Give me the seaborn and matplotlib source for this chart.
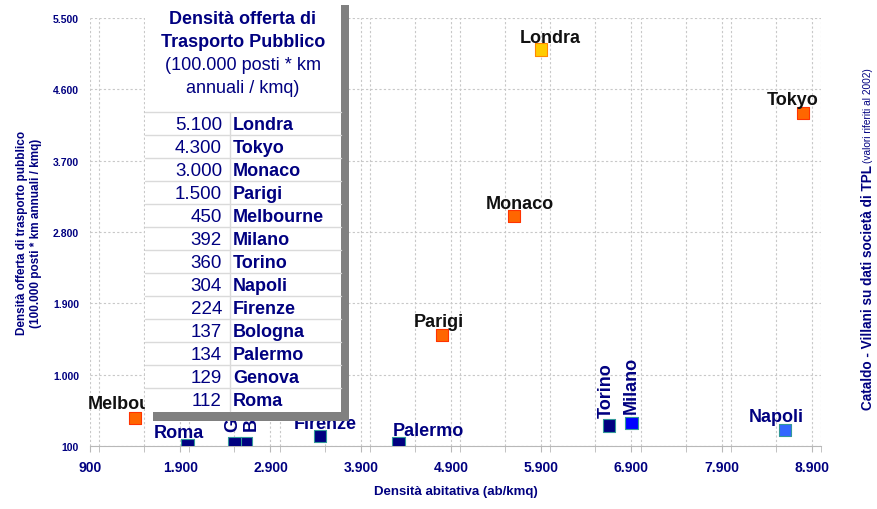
import numpy as np
import pandas as pd
import matplotlib
matplotlib.use("Agg")
import matplotlib.pyplot as plt
import seaborn as sns
from matplotlib.ticker import FuncFormatter, MultipleLocator
from matplotlib.patches import Rectangle

# data
cities = ["Londra", "Tokyo", "Monaco", "Parigi", "Melbourne", "Milano", "Torino",
          "Napoli", "Firenze", "Bologna", "Palermo", "Genova", "Roma"]
offerta = [5100, 4300, 3000, 1500, 450, 392, 360, 304, 224, 137, 134, 129, 112]
densita = [5900, 8800, 5600, 4800, 1400, 6900, 6650, 8600, 3450, 2630, 4320, 2500, 1980]
fill = ["#FFCC00", "#FF6600", "#FF6600", "#FF6600", "#FF6600", "#0000FF", "#000080",
        "#3366FF", "#000080", "#000080", "#000080", "#000080", "#000080"]
x_ticks = list(range(900, 9000, 1000))
y_ticks = list(range(100, 5501, 900))

# label styling: (dx px, dy px, rotation, colour)
label_style = {
    "Londra": (9, 8, 0, "#111111"), "Tokyo": (-10, 9, 0, "#111111"),
    "Monaco": (6, 8, 0, "#111111"), "Parigi": (-3, 9, 0, "#111111"),
    "Melbourne": (-2, 10, 0, "#111111"), "Milano": (0, 10, 90, "#000080"),
    "Torino": (-3, 8, 90, "#000080"), "Napoli": (-9, 9, 0, "#000080"),
    "Firenze": (5, 8, 0, "#000080"), "Bologna": (5, 13, 90, "#000080"),
    "Palermo": (30, 8, 0, "#000080"), "Genova": (-2, 13, 90, "#000080"),
    "Roma": (-9, 8, 0, "#000080"),
}

df = pd.DataFrame({"citta": cities, "densita": densita, "offerta": offerta})
NAVY = "#000080"

sns.set_style("white")
plt.rcParams["font.family"] = ["Liberation Sans", "DejaVu Sans"]

fig = plt.figure(figsize=(8.78, 5.10), dpi=100)
ax = fig.add_axes([90 / 878, 63 / 510, 731 / 878, 428 / 510])

edges = ["#FF8800" if c == "#FFCC00" else "#FF3300" if c == "#FF6600" else "#339999" for c in fill]
sns.scatterplot(data=df, x="densita", y="offerta", hue="citta",
                palette=dict(zip(cities, fill)), marker="s", s=80,
                linewidth=0.8, legend=False, ax=ax, zorder=3)
ax.collections[0].set_edgecolors(edges)

px = 72 / 100
for c, x, y in zip(cities, densita, offerta):
    dx, dy, rot, col = label_style[c]
    ax.annotate(c, (x, y), xytext=(dx * px, dy * px), textcoords="offset points",
                ha="center", va="bottom" if rot else "baseline", rotation=rot,
                fontsize=13, fontweight="bold", color=col, zorder=4)

ax.set_xlim(900, 9000)
ax.set_ylim(100, 5500)
ax.set_xticks(x_ticks)
ax.xaxis.set_minor_locator(MultipleLocator(500))
ax.set_yticks(y_ticks)
fmt = FuncFormatter(lambda v, p: f"{int(v):,}".replace(",", "."))
ax.xaxis.set_major_formatter(fmt)
ax.yaxis.set_major_formatter(fmt)
ax.grid(True, which="both", axis="x", color="#C8C8C8", linestyle=(0, (2, 2)), linewidth=0.8)
ax.grid(True, which="major", axis="y", color="#C8C8C8", linestyle=(0, (2, 2)), linewidth=0.8)
for s in ["top", "right", "left"]:
    ax.spines[s].set_visible(False)
ax.spines["bottom"].set_color("#B8B8B8")
ax.tick_params(axis="x", which="both", length=4, color="#B8B8B8", bottom=True, pad=6)
ax.tick_params(axis="y", length=0, pad=8)
for t in ax.get_xticklabels():
    t.set_fontsize(10); t.set_fontweight("bold"); t.set_color(NAVY)
for t in ax.get_yticklabels():
    t.set_fontsize(7.5); t.set_fontweight("bold"); t.set_color(NAVY)

ax.set_xlabel("Densità abitativa (ab/kmq)", fontsize=9.5, fontweight="bold", color=NAVY, labelpad=8)
ax.set_ylabel("Densità offerta di trasporto pubblico\n(100.000 posti * km annuali / kmq)",
              fontsize=8.5, fontweight="bold", color=NAVY, labelpad=8)

fig.text(868 / 878, 100 / 510, "Cataldo - Villani su dati società di TPL", rotation=90,
         ha="center", va="bottom", fontsize=9.8, fontweight="bold", color=NAVY)
fig.text(868 / 878, 347 / 510, "(valori riferiti al 2002)", rotation=90,
         ha="center", va="bottom", fontsize=7.3, color=NAVY)

# inset table, pixel-like coordinates
tab = pd.DataFrame({"v": offerta, "c": cities}).sort_values("v", ascending=False)
iax = fig.add_axes([145 / 878, 88 / 510, 204 / 878, 422 / 510], zorder=5)
iax.set_xlim(145, 349)
iax.set_ylim(422, 0)
iax.axis("off")
iax.add_patch(Rectangle((153, 6), 196, 416, facecolor="#808080", edgecolor="none"))
iax.add_patch(Rectangle((145, 0), 196, 413, facecolor="white", edgecolor="none"))
title = ["Densità offerta di", "Trasporto Pubblico", "(100.000 posti * km", "annuali / kmq)"]
for i, line in enumerate(title):
    iax.text(243, 19 + 23.3 * i, line, ha="center", va="center", fontsize=13,
             fontweight="bold" if i < 2 else "normal", color=NAVY)
row_h = 23
top = 113
for i, (v, c) in enumerate(zip(tab["v"], tab["c"])):
    yc = top + row_h * i + row_h / 2
    iax.plot([145, 341], [top + row_h * i] * 2, color="#DADADA", lw=1)
    iax.text(222, yc + 1, f"{v:,}".replace(",", "."), ha="right", va="center",
             fontsize=13.5, color=NAVY)
    iax.text(233, yc + 1, c, ha="left", va="center", fontsize=13,
             fontweight="bold", color=NAVY)
iax.plot([230, 230], [top, top + row_h * len(tab)], color="#DADADA", lw=1)

fig.savefig("out.png", dpi=100)
